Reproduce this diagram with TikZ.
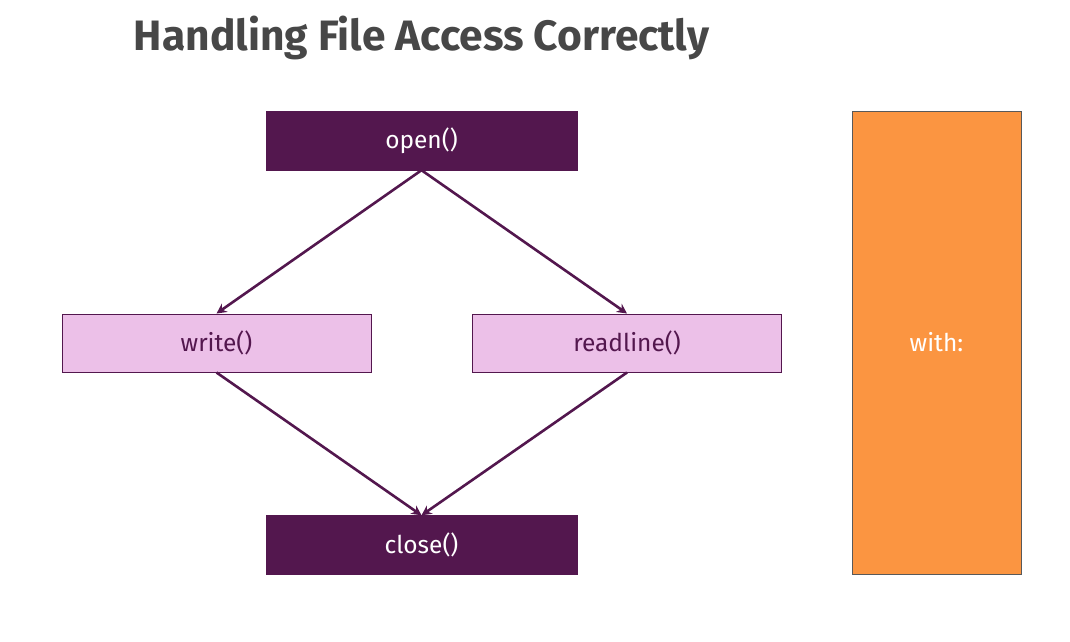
\documentclass[tikz,border=0pt]{standalone}
\usepackage{fontspec}
\setmainfont{Fira Sans}
\usetikzlibrary{arrows.meta}
\definecolor{dpurple}{HTML}{53174E}
\definecolor{lpurple}{HTML}{ECC0E8}
\definecolor{orangebox}{HTML}{FB9541}
\definecolor{titlegray}{HTML}{474747}
\begin{document}
\begin{tikzpicture}[x=1pt,y=-1pt,
  boxfont/.style={font=\fontsize{24.5}{28}\selectfont},
  darkbox/.style={draw=dpurple,fill=dpurple,text=white,minimum width=311pt,minimum height=59pt,inner sep=0pt,boxfont},
  lightbox/.style={draw=dpurple,line width=1pt,fill=lpurple,text=dpurple,minimum width=309pt,minimum height=58pt,inner sep=0pt,boxfont},
  conn/.style={draw=dpurple,line width=2.6pt,-{Stealth[length=10pt,width=10pt]}}]
\useasboundingbox (0,0) rectangle (1070,641);
\node[font=\fontsize{42.5}{50}\selectfont\bfseries,text=titlegray] (title) at (421.5,38) {Handling File Access Correctly};
\node[darkbox] (open) at (421.5,140.5) {open()};
\node[lightbox] (write) at (216.5,343) {write()};
\node[lightbox] (readline) at (627,343) {readline()};
\node[darkbox] (close) at (421.5,545) {close()};
\node[draw=black!65,line width=1pt,fill=orangebox,text=white,minimum width=169pt,minimum height=463pt,inner sep=0pt,boxfont] (with) at (936.5,342.5) {with:};
\draw[conn] (open.south) -- (write.north);
\draw[conn] (open.south) -- (readline.north);
\draw[conn] (write.south) -- (close.north);
\draw[conn] (readline.south) -- (close.north);
\end{tikzpicture}
\end{document}
